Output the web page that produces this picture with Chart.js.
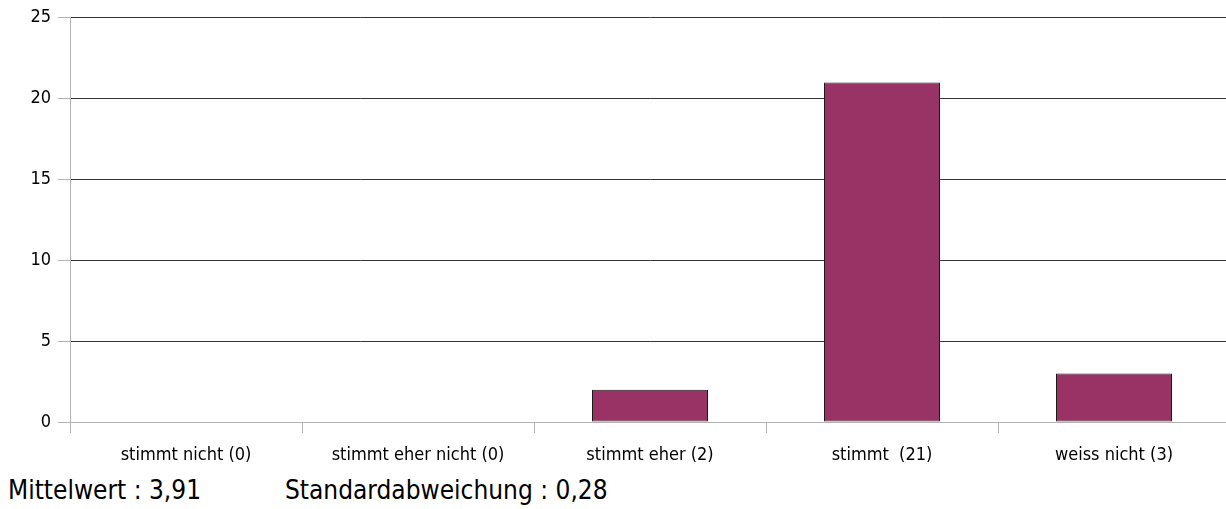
<!DOCTYPE html>
<html>
<head>
<meta charset="utf-8">
<script src="https://cdn.jsdelivr.net/npm/chart.js@4"></script>
<style>
  html, body { margin: 0; padding: 0; background: #fff; overflow: hidden; width: 1226px; height: 509px; }
  #wrap { position: absolute; left: 0; top: 0; width: 1230px; height: 470px; }
  .stat { position: absolute; top: 473px; font-family: "DejaVu Sans Condensed", "DejaVu Sans", sans-serif; font-size: 26px; color: #000; line-height: 34px; white-space: nowrap; }
</style>
</head>
<body>
<div id="wrap"><canvas id="c"></canvas></div>
<div class="stat" style="left:8px">Mittelwert : 3,91</div>
<div class="stat" style="left:285px">Standardabweichung : 0,28</div>
<script>
const categories = ["stimmt nicht (0)", "stimmt eher nicht (0)", "stimmt eher (2)", "stimmt  (21)", "weiss nicht (3)"];
const values = [0, 0, 2, 21, 3];
const yTicks = [0, 5, 10, 15, 20, 25];

const FONT = '"DejaVu Sans Condensed", "DejaVu Sans", sans-serif';
new Chart(document.getElementById('c'), {
  type: 'bar',
  data: {
    labels: categories,
    datasets: [{
      data: values,
      backgroundColor: '#993366',
      borderColor: '#1a1a1a',
      borderWidth: 1,
      borderSkipped: false,
      categoryPercentage: 0.5,
      barPercentage: 1.0
    }]
  },
  options: {
    responsive: true,
    maintainAspectRatio: false,
    animation: false,
    layout: { padding: { top: 15, left: 0, right: 0, bottom: 0 } },
    plugins: { legend: { display: false }, tooltip: { enabled: false } },
    scales: {
      x: {
        offset: true,
        grid: { offset: true, drawOnChartArea: false, color: '#b3b3b3', tickLength: 11, lineWidth: 1 },
        border: { color: '#b3b3b3' },
        ticks: { color: '#000', font: { family: FONT, size: 18 }, padding: 12, maxRotation: 0, autoSkip: false },
        afterFit: (s) => { s.height = 48; }
      },
      y: {
        min: 0, max: 25,
        afterBuildTicks: (s) => { s.ticks = yTicks.map(v => ({ value: v })); },
        grid: {
          color: (ctx) => (ctx.tick && ctx.tick.value === 0) ? '#b3b3b3' : '#333333',
          tickColor: '#b3b3b3',
          tickLength: 12,
          lineWidth: 1
        },
        border: { color: '#b3b3b3' },
        ticks: { color: '#000', font: { family: FONT, size: 18 }, padding: 7 },
        afterFit: (s) => { s.width = 70; }
      }
    }
  }
});
</script>
</body>
</html>
